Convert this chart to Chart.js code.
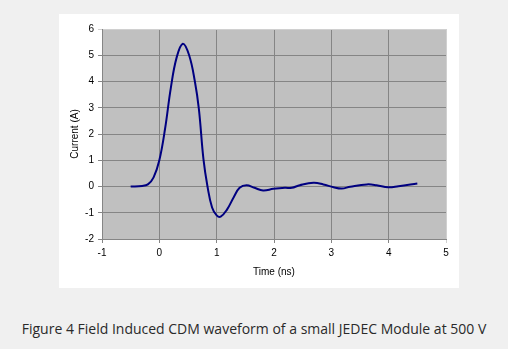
<!DOCTYPE html>
<html>
<head>
<meta charset="utf-8">
<script src="https://cdn.jsdelivr.net/npm/chart.js@4"></script>
<style>
  html, body { margin: 0; padding: 0; background: #f0f0f0; }
  body { width: 508px; height: 349px; position: relative; overflow: hidden; }
  #box { position: absolute; left: 59px; top: 14px; width: 400px; height: 274px; background: #fff; }
  #caption {
    position: absolute; left: 0; width: 508px; top: 319px; text-align: center;
    font-family: "Open Sans", sans-serif; font-size: 14px; color: #2a2a2a; white-space: nowrap;
  }
</style>
</head>
<body>
<div id="box"><canvas id="chart" width="400" height="274"></canvas></div>
<div id="caption">Figure 4 Field Induced CDM waveform of a small JEDEC Module at 500 V</div>
<script>
// CDM waveform
const timeNs = [-0.5, -0.3, -0.2, -0.1, 0, 0.1, 0.2, 0.3, 0.41, 0.52, 0.62, 0.69, 0.77, 0.84, 0.92,
  1.0, 1.07, 1.18, 1.3, 1.4, 1.52, 1.66, 1.81, 1.99, 2.19, 2.31, 2.45, 2.69, 2.86,
  3.04, 3.18, 3.33, 3.62, 3.79, 3.99, 4.17, 4.5];
const currentA = [0, 0.02, 0.08, 0.35, 1.0, 2.2, 3.75, 4.9, 5.44, 5.0, 4.0, 2.95, 1.03, 0.0, -0.8,
  -1.1, -1.15, -0.88, -0.4, -0.05, 0.05, -0.05, -0.15, -0.09, -0.05, -0.05, 0.05, 0.14, 0.08,
  -0.03, -0.08, -0.01, 0.08, 0.05, -0.03, 0.01, 0.11];

const xLabel = "Time (ns)";
const yLabel = "Current (A)";

const axisFont = { family: "'Liberation Sans', Arial, sans-serif", size: 10 };

// grey plot background like the Excel chart
const plotBg = {
  id: "plotBg",
  beforeDraw(chart) {
    const { ctx, chartArea: a } = chart;
    ctx.save();
    ctx.fillStyle = "#c0c0c0";
    ctx.fillRect(a.left, a.top, a.right - a.left, a.bottom - a.top);
    ctx.restore();
  }
};

const ctx = document.getElementById("chart").getContext("2d");

new Chart(ctx, {
  type: "line",
  data: {
    datasets: [{
      data: timeNs.map((t, i) => ({ x: t, y: currentA[i] })),
      borderColor: "#000080",
      borderWidth: 2,
      pointRadius: 0,
      fill: false,
      tension: 0.4
    }]
  },
  plugins: [plotBg],
  options: {
    responsive: false,
    animation: false,
    layout: { padding: { top: 15, right: 13, left: 0, bottom: 0 } },
    plugins: { legend: { display: false }, tooltip: { enabled: false } },
    scales: {
      x: {
        type: "linear",
        min: -1,
        max: 5,
        afterFit: (s) => { s.height = 49; },
        ticks: { stepSize: 1, color: "#000", font: axisFont, padding: 4, maxRotation: 0 },
        grid: {
          color: (c) => c.tick && c.tick.value === 5 ? "#d0d0d0" : "#858585",
          lineWidth: 1,
          tickLength: 4
        },
        border: { color: "#858585" },
        title: { display: true, text: xLabel, color: "#000", font: axisFont, padding: { top: 0, bottom: 10 } }
      },
      y: {
        min: -2,
        max: 6,
        afterFit: (s) => { s.width = 43; },
        ticks: { stepSize: 1, color: "#000", font: axisFont, padding: 4 },
        grid: {
          color: (c) => c.tick && c.tick.value === 6 ? "#d0d0d0" : "#858585",
          lineWidth: 1,
          tickLength: 4
        },
        border: { color: "#858585" },
        title: { display: true, text: yLabel, color: "#000", font: axisFont, padding: { top: 10, bottom: 0 } }
      }
    }
  }
});
</script>
</body>
</html>
